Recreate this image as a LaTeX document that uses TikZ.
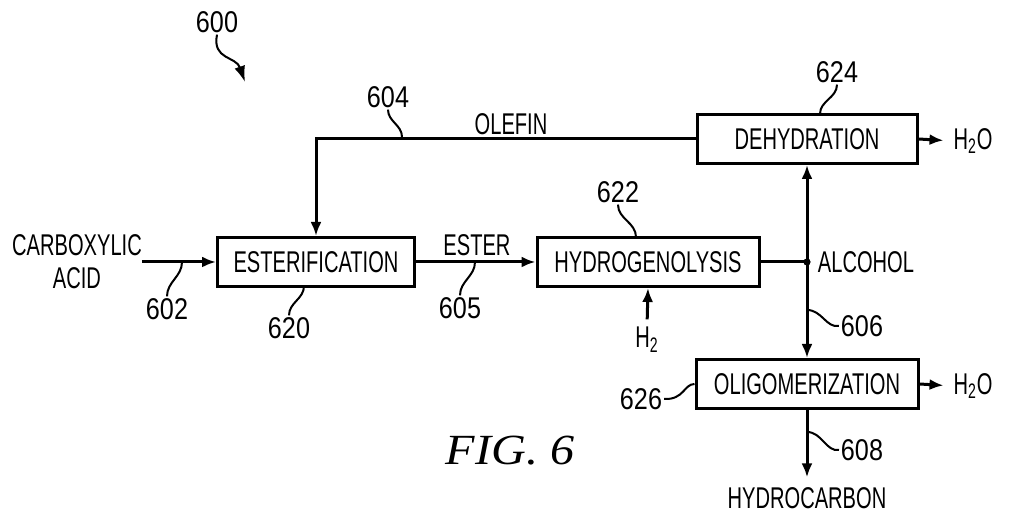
\documentclass[tikz,border=0pt]{standalone}
\usepackage{fontspec}
\setmainfont{Liberation Sans}[FakeStretch=0.67]
\newfontfamily\numfont{Liberation Sans}[FakeStretch=0.84]
\newfontfamily\figfont{Liberation Serif}[FakeStretch=1.12]
\usepackage{tikz}
\usetikzlibrary{arrows.meta}
\usetikzlibrary{positioning}

\begin{document}
\begin{tikzpicture}[x=0.5pt,y=-0.5pt,->,>={Latex[length=7pt,width=5.5pt]},line width=1.5pt,font=\fontsize{15}{16.5}\selectfont]
 \tikzstyle{unit}=[draw,rectangle,minimum height=24.5pt,inner sep=0pt]
 \tikzstyle{lbl}=[inner sep=0pt,outer sep=0pt]
 \tikzstyle{num}=[inner sep=0pt,outer sep=1pt,font=\numfont\fontsize{15}{16}\selectfont]
 \tikzstyle{lead}=[-,line width=1pt]
 \useasboundingbox (0,0) rectangle (1009,512);
 % process units
 \node[unit,minimum width=98.5pt] (ester) at (316,262) {ESTERIFICATION};
 \node[unit,minimum width=111pt]  (hydro) at (648,262) {HYDROGENOLYSIS};
 \node[unit,minimum width=110pt]  (dehyd) at (807,139) {DEHYDRATION};
 \node[unit,minimum width=111pt]  (olig)  at (807,384) {OLIGOMERIZATION};
 % stream names
 \node[lbl,align=center] (acid)    at (77,262)  {CARBOXYLIC\\ACID};
 \node[lbl]              (esterl)  at (477,245) {ESTER};
 \node[lbl]              (olefin)  at (511,124) {OLEFIN};
 \node[lbl]              (alcohol) at (866,262) {ALCOHOL};
 \node[lbl]              (h2)      at (647,340) {H\textsubscript{2}};
 \node[lbl]              (water1)  at (973,141) {H\textsubscript{2}O};
 \node[lbl]              (water2)  at (973,386) {H\textsubscript{2}O};
 \node[lbl]              (hc)      at (807,498) {HYDROCARBON};
 \coordinate (junc) at (807,262);
 % reference numbers
 \node[num] (n600) at (217,22)  {600};
 \node[num] (n604) at (388,97)  {604};
 \node[num] (n624) at (837,72)  {624};
 \node[num] (n622) at (618,192) {622};
 \node[num] (n602) at (167,309) {602};
 \node[num] (n620) at (289,328) {620};
 \node[num] (n605) at (460,308) {605};
 \node[num] (n606) at (862,326) {606};
 \node[num] (n626) at (641,399) {626};
 \node[num] (n608) at (862,450) {608};
 \node[lbl,font=\figfont\itshape\fontsize{21.5}{24}\selectfont] (fig) at (510,451) {FIG.\ 6};
 % lead ends
 \coordinate (l600) at (245,82);
 \coordinate (l604) at (402,137);
 \coordinate (l624) at (820,114);
 \coordinate (l622) at (636,237);
 \coordinate (l602) at (182,262);
 \coordinate (l620) at (304,286);
 \coordinate (l605) at (475,262);
 \coordinate (l606) at (807,310);
 \coordinate (l608) at (807,432);
 % streams
 \path
 (acid.east) edge (ester.west)
 (ester.east) edge (hydro.west)
 (h2.north) edge[shorten <=4pt] (hydro.south)
 (hydro.east) edge[-] (junc)
 (junc) edge (dehyd.south)
 (junc) edge (olig.north)
 (dehyd.east) edge[shorten >=5pt] (water1.west)
 (olig.east) edge[shorten >=5pt] (water2.west)
 (olig.south) edge[shorten >=5pt] (hc.north);
 \draw (dehyd.west) -| (ester.north);
 \fill (junc) circle[radius=1.8pt];
 % leads
 \draw[lead,->,>={Latex[length=8pt,width=5.5pt]}] (n600.south) .. controls (212,60) and (236,56) .. (l600);
 \draw[lead] (n604.south) to[out=-90,in=90] (l604);
 \draw[lead] (n624.south) to[out=-90,in=90] (l624);
 \draw[lead] (n622.south) to[out=-90,in=90] (l622);
 \draw[lead] (n602.north) to[out=90,in=-90] (l602);
 \draw[lead] (n620.north) to[out=90,in=-90] (l620);
 \draw[lead] (n605.north) to[out=90,in=-90] (l605);
 \draw[lead] (n606.west) .. controls (826,328) and (822,310) .. (l606);
 \draw[lead] (n608.west) .. controls (826,452) and (822,432) .. (l608);
 \draw[lead] (n626.east) .. controls (684,400) and (684,384) .. (olig.west);
\end{tikzpicture}
\end{document}
